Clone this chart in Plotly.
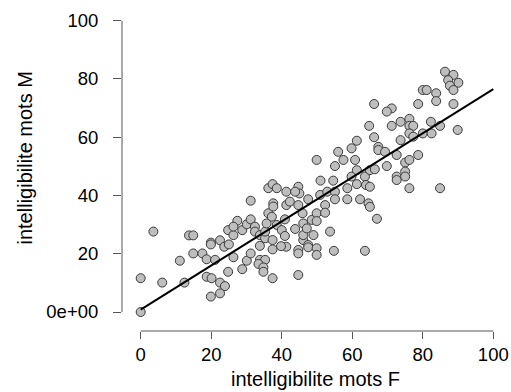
import plotly.graph_objects as go

# Data
mots_F = [0, 0, 6.1, 3.6, 11.1, 12.4, 13.7, 14.9, 14.9, 17.5, 18.7, 21.1, 18.7, 20.1, 22.5, 23.9,
          22.5, 19.9, 19.9, 19.9, 22.5, 23.7, 25.0, 26.3, 24.8, 28.8, 30.1, 31.2, 24.8, 26.3,
          27.4, 26.3, 28.8, 30.1, 31.2, 31.2,
          32.4, 32.4, 33.8, 33.8, 35.3, 35.3, 35.7, 36.2, 37.2, 37.6, 37.6, 36.2, 37.4, 38.6,
          37.4, 37.4, 33.8, 35.3, 33.4, 34.8, 34.8, 37.4, 38.6, 40.0, 40.9, 41.3, 41.3, 40.9,
          41.3, 39.8, 42.3, 43.8, 44.7, 45.0, 43.8, 44.7, 45.9, 46.1, 44.7, 44.7, 46.1, 46.1,
          47.1, 47.5, 47.5, 44.7, 47.5, 48.5, 49.0, 49.9, 49.9, 49.9, 49.9, 50.9, 51.0, 52.3,
          52.3, 52.9, 53.7, 54.6, 55.1, 55.1, 54.8, 58.6, 58.6, 59.8, 61.3, 61.3, 62.2, 63.6,
          63.9, 64.6, 65.0, 65.0, 63.6, 65.0, 67.0, 49.9, 55.1, 57.5, 60.8,
          66.4, 69.8, 75.0, 76.2, 75.0, 72.6, 72.6, 75.0, 76.2, 84.9,
          86.3, 88.7, 87.2, 90.1, 87.7, 88.7, 80.0, 81.1, 83.8, 83.8, 88.7, 78.7, 71.2, 69.8,
          66.2, 64.8, 71.2, 73.7, 76.2, 76.2, 77.3, 76.2, 77.3, 80.0, 82.3, 82.5, 84.9, 89.9,
          66.2, 73.7, 67.4, 67.4, 69.3, 72.6, 78.7,
          61.3, 59.8, 56.0]
mots_M = [0, 11.6, 10.1, 27.6, 17.6, 10.1, 26.3, 26.3, 20.1, 20.1, 18.1, 17.9, 12.1, 11.6, 10.1, 8.9,
          6.4, 5.3, 23.8, 23.2, 24.6, 22.4, 23.2, 18.8, 13.8, 14.7, 17.6, 20.1, 28.1, 26.4,
          31.3, 29.3, 28.1, 30.1, 31.8, 38.2,
          29.3, 27.6, 26.4, 22.7, 25.3, 27.6, 30.4, 33.9, 32.7, 37.3, 36.2, 42.5, 43.9, 42.5,
          24.7, 21.5, 17.9, 17.9, 16.5, 15.3, 13.8, 11.6, 29.9, 28.1, 31.8, 36.7, 41.3, 26.1,
          22.4, 22.6, 37.9, 28.5, 43.0, 40.7, 41.3, 36.7, 33.9, 30.4, 21.3, 20.1, 24.7, 26.4,
          28.7, 23.0, 22.2, 12.7, 38.7, 31.6, 26.4, 33.9, 31.2, 21.9, 19.6, 40.2, 45.1, 36.7,
          34.1, 41.3, 27.6, 45.1, 41.3, 38.7, 21.0, 42.5, 38.7, 46.5, 48.7, 43.9, 38.7, 46.5,
          43.6, 37.3, 36.1, 43.0, 21.0, 48.7, 32.0, 52.2, 50.1, 52.2, 52.2,
          49.0, 50.1, 51.3, 52.2, 48.2, 46.5, 45.3, 46.5, 42.5, 42.5,
          82.5, 81.4, 79.6, 78.7, 77.7, 76.2, 76.2, 76.2, 75.1, 72.4, 71.4, 71.4, 69.9, 68.8,
          71.4, 63.9, 63.9, 65.3, 66.3, 63.9, 63.9, 61.3, 60.2, 61.3, 65.3, 61.3, 63.9, 62.5,
          60.0, 59.0, 56.7, 55.6, 55.0, 53.9, 53.9,
          58.8, 56.2, 55.0]

# regression line (intercept, slope)
fit_intercept = 0.8
fit_slope = 0.757
fit_x = [0, 100]

x_ticks = [0, 20, 40, 60, 80, 100]
x_ticktext = ["0", "20", "40", "60", "80", "100"]
y_ticks = [0, 20, 40, 60, 80, 100]
y_ticktext = ["0e+00", "20", "40", "60", "80", "100"]

x_title = "intelligibilite mots F"
y_title = "intelligibilite mots M"

FONT = "Liberation Sans, Arial, sans-serif"
AXIS_COLOR = "#555555"

fig = go.Figure()
fig.add_trace(go.Scatter(
    x=mots_F, y=mots_M, mode="markers",
    marker=dict(size=9, color="#BEBEBE", line=dict(color="#3a3a3a", width=1)),
    showlegend=False, hoverinfo="skip"))
fig.add_trace(go.Scatter(
    x=fit_x, y=[fit_intercept + fit_slope * v for v in fit_x], mode="lines",
    line=dict(color="black", width=2), showlegend=False, hoverinfo="skip"))

W, H = 511, 392
L, R, T, B = 122, 6, 10, 61
# data ranges chosen so that 0..100 fall where the reference puts them
x0 = (L - 140.7) / 3.526
x1 = (W - R - 140.7) / 3.526
y0 = (312 - (H - B)) / 2.913
y1 = (312 - T) / 2.913

fig.update_layout(
    width=W, height=H, autosize=False,
    margin=dict(l=L, r=R, t=T, b=B, pad=0, autoexpand=False),
    plot_bgcolor="white", paper_bgcolor="white",
    font=dict(family=FONT, size=18.5, color="black"),
    xaxis=dict(range=[x0, x1], showgrid=False, zeroline=False, showline=False,
               tickvals=x_ticks, ticktext=x_ticktext, ticks="outside", ticklen=7,
               tickcolor=AXIS_COLOR, tickwidth=1, ticklabelstandoff=0, automargin=False,
               fixedrange=True),
    yaxis=dict(range=[y0, y1], showgrid=False, zeroline=False, showline=False,
               tickvals=y_ticks, ticktext=y_ticktext, ticks="outside", ticklen=8,
               tickcolor=AXIS_COLOR, tickwidth=1, ticklabelstandoff=11, automargin=False,
               fixedrange=True),
    shapes=[
        dict(type="line", xref="x", yref="paper", x0=0, x1=100, y0=0, y1=0,
             line=dict(color=AXIS_COLOR, width=1)),
        dict(type="line", xref="paper", yref="y", x0=0, x1=0, y0=0, y1=100,
             line=dict(color=AXIS_COLOR, width=1)),
    ],
    annotations=[
        dict(text=x_title, xref="paper", yref="paper",
             x=(315.5 - L) / (W - L - R), y=-(378.5 - (H - B)) / (H - T - B),
             xanchor="center", yanchor="middle", showarrow=False,
             font=dict(family=FONT, size=20, color="black")),
        dict(text=y_title, xref="paper", yref="paper", textangle=-90,
             x=-(L - 24) / (W - L - R), y=((H - B) - 158.5) / (H - T - B),
             xanchor="center", yanchor="middle", showarrow=False,
             font=dict(family=FONT, size=20, color="black")),
    ],
)

fig.write_html("out.html", config={"displayModeBar": False},
               post_script="document.body.style.margin='0';document.body.style.overflow='hidden';")
